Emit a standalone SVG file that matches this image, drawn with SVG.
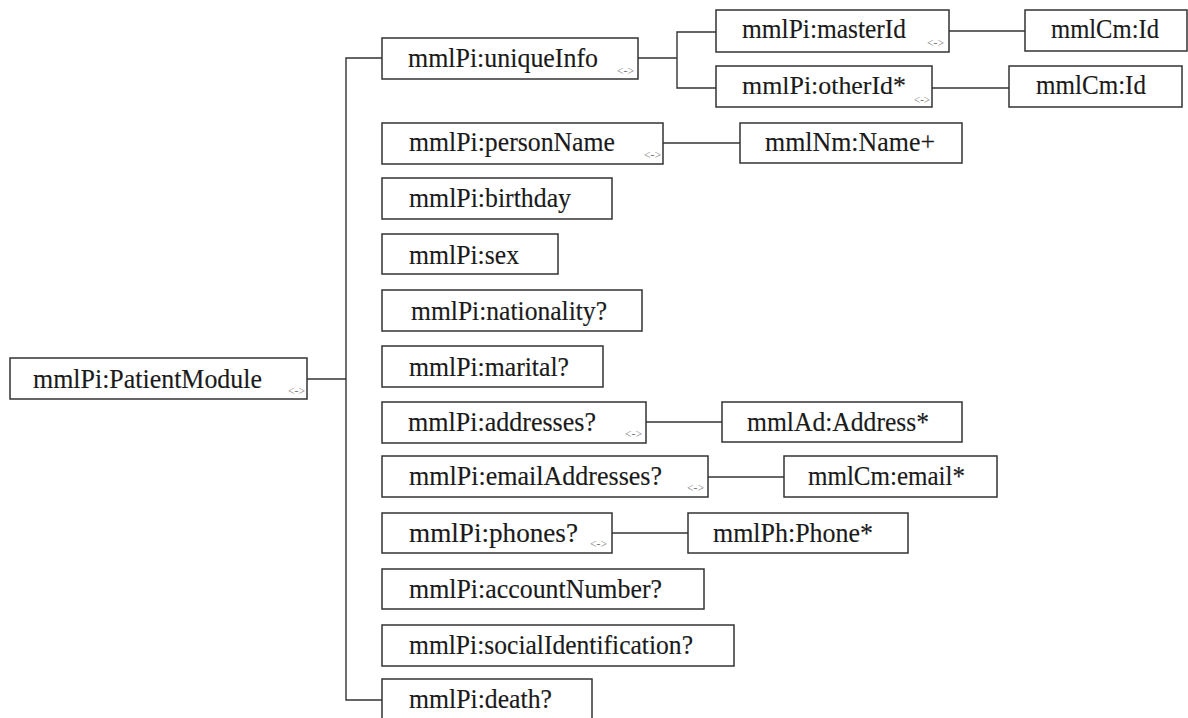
<svg xmlns="http://www.w3.org/2000/svg" width="1188" height="718" viewBox="0 0 1188 718">
<style>
rect.n{fill:#fff;stroke:#333;stroke-width:1.5}
text.t{font-size:28px;fill:#1a1a1a;stroke:#1a1a1a;stroke-width:0.15}
text.m{font-size:12px;fill:#777}
#connectors path{fill:none;stroke:#333;stroke-width:1.4}
</style>
<rect width="1188" height="718" fill="#fff"/>
<g id="connectors">
<path d="M307,379H346"/>
<path d="M382,58H346V700H382"/>
<path d="M638,58H677"/>
<path d="M716,32H677V88H716"/>
<path d="M949,31H1025"/>
<path d="M932,88H1009"/>
<path d="M663,143H740"/>
<path d="M646,422H722"/>
<path d="M708,477H784"/>
<path d="M612,533H688"/>
</g>
<g font-family="Liberation Serif, Times New Roman, serif">
<g id="patientModule"><rect class="n" x="10" y="358" width="297" height="41"/><text class="t" x="33" y="388" textLength="229" lengthAdjust="spacingAndGlyphs">mmlPi:PatientModule</text><text class="m" x="288" y="395" textLength="17" lengthAdjust="spacingAndGlyphs">&lt;-&gt;</text></g>
<g id="uniqueInfo"><rect class="n" x="382" y="38" width="256" height="41"/><text class="t" x="408" y="67" textLength="190" lengthAdjust="spacingAndGlyphs">mmlPi:uniqueInfo</text><text class="m" x="617" y="75" textLength="17" lengthAdjust="spacingAndGlyphs">&lt;-&gt;</text></g>
<g id="masterId"><rect class="n" x="716" y="10" width="233" height="42"/><text class="t" x="742" y="38" textLength="164" lengthAdjust="spacingAndGlyphs">mmlPi:masterId</text><text class="m" x="927" y="47" textLength="17" lengthAdjust="spacingAndGlyphs">&lt;-&gt;</text></g>
<g id="masterCmId"><rect class="n" x="1025" y="10" width="162" height="41"/><text class="t" x="1051" y="38" textLength="108" lengthAdjust="spacingAndGlyphs">mmlCm:Id</text></g>
<g id="otherId"><rect class="n" x="716" y="66" width="216" height="41"/><text class="t" style="font-size:26px" x="742" y="94" textLength="164" lengthAdjust="spacingAndGlyphs">mmlPi:otherId*</text><text class="m" x="914" y="104" textLength="16" lengthAdjust="spacingAndGlyphs">&lt;-&gt;</text></g>
<g id="otherCmId"><rect class="n" x="1009" y="66" width="173" height="41"/><text class="t" x="1036" y="94" textLength="110" lengthAdjust="spacingAndGlyphs">mmlCm:Id</text></g>
<g id="personName"><rect class="n" x="382" y="123" width="281" height="41"/><text class="t" x="409" y="151" textLength="206" lengthAdjust="spacingAndGlyphs">mmlPi:personName</text><text class="m" x="644" y="159" textLength="17" lengthAdjust="spacingAndGlyphs">&lt;-&gt;</text></g>
<g id="name"><rect class="n" x="740" y="123" width="222" height="40"/><text class="t" x="765" y="151" textLength="170" lengthAdjust="spacingAndGlyphs">mmlNm:Name+</text></g>
<g id="birthday"><rect class="n" x="382" y="178" width="230" height="41"/><text class="t" x="409" y="207" textLength="162" lengthAdjust="spacingAndGlyphs">mmlPi:birthday</text></g>
<g id="sex"><rect class="n" x="382" y="234" width="176" height="40"/><text class="t" x="409" y="264" textLength="110" lengthAdjust="spacingAndGlyphs">mmlPi:sex</text></g>
<g id="nationality"><rect class="n" x="382" y="290" width="260" height="41"/><text class="t" x="411" y="320" textLength="196" lengthAdjust="spacingAndGlyphs">mmlPi:nationality?</text></g>
<g id="marital"><rect class="n" x="382" y="346" width="221" height="41"/><text class="t" x="409" y="376" textLength="160" lengthAdjust="spacingAndGlyphs">mmlPi:marital?</text></g>
<g id="addresses"><rect class="n" x="382" y="402" width="264" height="41"/><text class="t" x="408" y="431" textLength="188" lengthAdjust="spacingAndGlyphs">mmlPi:addresses?</text><text class="m" x="625" y="438" textLength="17" lengthAdjust="spacingAndGlyphs">&lt;-&gt;</text></g>
<g id="address"><rect class="n" x="722" y="402" width="240" height="40"/><text class="t" x="747" y="431" textLength="182" lengthAdjust="spacingAndGlyphs">mmlAd:Address*</text></g>
<g id="emailAddresses"><rect class="n" x="382" y="456" width="326" height="41"/><text class="t" x="409" y="485" textLength="253" lengthAdjust="spacingAndGlyphs">mmlPi:emailAddresses?</text><text class="m" x="687" y="492" textLength="17" lengthAdjust="spacingAndGlyphs">&lt;-&gt;</text></g>
<g id="email"><rect class="n" x="784" y="456" width="213" height="41"/><text class="t" x="808" y="485" textLength="157" lengthAdjust="spacingAndGlyphs">mmlCm:email*</text></g>
<g id="phones"><rect class="n" x="382" y="513" width="230" height="40"/><text class="t" x="409" y="542" textLength="169" lengthAdjust="spacingAndGlyphs">mmlPi:phones?</text><text class="m" x="590" y="548" textLength="17" lengthAdjust="spacingAndGlyphs">&lt;-&gt;</text></g>
<g id="phone"><rect class="n" x="688" y="513" width="220" height="40"/><text class="t" x="713" y="542" textLength="160" lengthAdjust="spacingAndGlyphs">mmlPh:Phone*</text></g>
<g id="accountNumber"><rect class="n" x="382" y="569" width="322" height="40"/><text class="t" x="409" y="598" textLength="253" lengthAdjust="spacingAndGlyphs">mmlPi:accountNumber?</text></g>
<g id="socialIdentification"><rect class="n" x="382" y="625" width="352" height="41"/><text class="t" x="409" y="654" textLength="284" lengthAdjust="spacingAndGlyphs">mmlPi:socialIdentification?</text></g>
<g id="death"><rect class="n" x="382" y="679" width="210" height="45"/><text class="t" x="409" y="708" textLength="143" lengthAdjust="spacingAndGlyphs">mmlPi:death?</text></g>
</g>
</svg>
